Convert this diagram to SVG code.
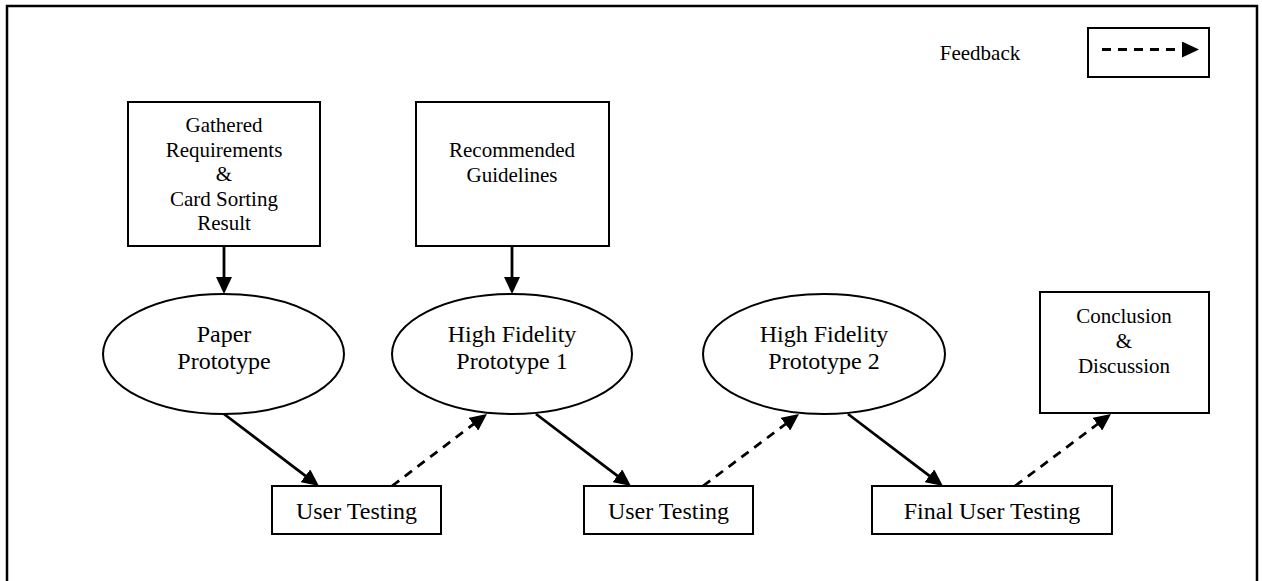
<svg xmlns="http://www.w3.org/2000/svg" width="1262" height="581" viewBox="0 0 1262 581">
<style>
.box{fill:#fff;stroke:#000;stroke-width:2}
.t{font-family:"Liberation Serif","Times New Roman",serif;fill:#000;text-anchor:middle}
.s21{font-size:21px}
.s24{font-size:24px}
.c{fill:none;stroke:#000;stroke-width:2.8}
.d{stroke-dasharray:9 7}
</style>
<defs>
<marker id="ah" markerUnits="userSpaceOnUse" markerWidth="17" markerHeight="16" refX="5" refY="8" orient="auto">
<path d="M0,0 L17,8 L0,16 Z" fill="#000"/>
</marker>
</defs>
<rect id="frame" x="7" y="6" width="1250" height="600" fill="#fff" stroke="#000" stroke-width="2.5"/>

<g id="legend">
<text class="t s21" x="980" y="60">Feedback</text>
<rect class="box" x="1088" y="28" width="121" height="49"/>
</g>

<g id="gathered">
<rect class="box" x="128" y="102" width="192" height="144"/>
<text class="t s21" x="224" y="132">Gathered</text>
<text class="t s21" x="224" y="157">Requirements</text>
<text class="t s21" x="224" y="181">&amp;</text>
<text class="t s21" x="224" y="206">Card Sorting</text>
<text class="t s21" x="224" y="230">Result</text>
</g>

<g id="recommended">
<rect class="box" x="416" y="102" width="193" height="144"/>
<text class="t s21" x="512" y="157">Recommended</text>
<text class="t s21" x="512" y="182">Guidelines</text>
</g>

<g id="paper">
<ellipse class="box" cx="223.5" cy="354" rx="120.5" ry="60"/>
<text class="t s24" x="224" y="342">Paper</text>
<text class="t s24" x="224" y="369">Prototype</text>
</g>

<g id="hf1">
<ellipse class="box" cx="512" cy="354" rx="120" ry="60"/>
<text class="t s24" x="512" y="342">High Fidelity</text>
<text class="t s24" x="512" y="369">Prototype 1</text>
</g>

<g id="hf2">
<ellipse class="box" cx="824" cy="354" rx="121" ry="60"/>
<text class="t s24" x="824" y="342">High Fidelity</text>
<text class="t s24" x="824" y="369">Prototype 2</text>
</g>

<g id="conclusion">
<rect class="box" x="1040" y="292" width="169" height="121"/>
<text class="t s21" x="1124" y="323">Conclusion</text>
<text class="t s21" x="1124" y="348">&amp;</text>
<text class="t s21" x="1124" y="373">Discussion</text>
</g>

<g id="ut1">
<rect class="box" x="272" y="486" width="169" height="48"/>
<text class="t s24" x="356.5" y="519">User Testing</text>
</g>

<g id="ut2">
<rect class="box" x="584" y="486" width="169" height="48"/>
<text class="t s24" x="668.5" y="519">User Testing</text>
</g>

<g id="fut">
<rect class="box" x="872" y="486" width="240" height="48"/>
<text class="t s24" x="992" y="519">Final User Testing</text>
</g>

<g id="connectors">
<path class="c d" d="M1102,49.5 L1187,49.5" marker-end="url(#ah)"/>
<path class="c" d="M224,246 L224,282" marker-end="url(#ah)"/>
<path class="c" d="M512,246 L512,282" marker-end="url(#ah)"/>
<path class="c" d="M224,414 L309.4,478.8" marker-end="url(#ah)"/>
<path class="c d" d="M392,486 L477.4,421.2" marker-end="url(#ah)"/>
<path class="c" d="M536,414 L621.4,478.8" marker-end="url(#ah)"/>
<path class="c d" d="M703,486 L789.4,421.2" marker-end="url(#ah)"/>
<path class="c" d="M848,414 L933.4,478.8" marker-end="url(#ah)"/>
<path class="c d" d="M1015,486 L1101.4,421.2" marker-end="url(#ah)"/>
</g>
</svg>
